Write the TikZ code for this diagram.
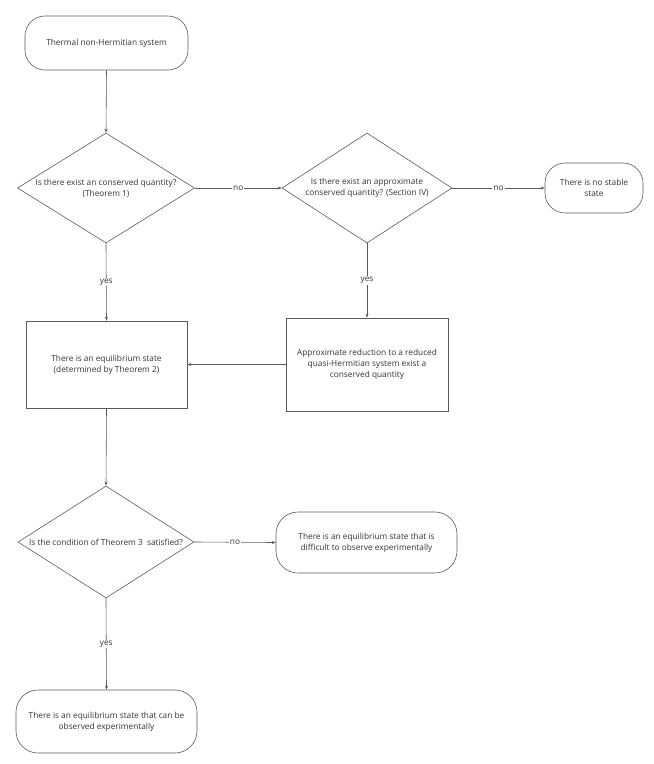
\documentclass[tikz,border=0pt]{standalone}
\usepackage{fontspec}
\setmainfont{Open Sans}
\usetikzlibrary{shapes.geometric,arrows.meta}
\definecolor{ln}{HTML}{5A5A5A}
\definecolor{tx}{HTML}{333333}
\begin{document}
\begin{tikzpicture}[x=1pt,y=-1pt,
  every node/.style={font=\fontsize{8.3}{11}\selectfont, text=tx},
  term/.style={draw=ln, line width=0.6pt, rounded corners=20pt, align=center, inner sep=0},
  box/.style={draw=ln, line width=0.6pt, align=center, inner sep=0},
  dia/.style={draw=ln, line width=0.6pt, diamond, inner sep=0},
  arr/.style={draw=ln, line width=0.6pt, -{Stealth[length=4pt,width=3pt]}},
  lab/.style={fill=white, inner sep=1pt}]
\useasboundingbox (0,0) rectangle (654,764);

\node[term, minimum width=163pt, minimum height=54pt] (start) at (106.5,43) {Thermal non-Hermitian system};

\node[dia, minimum width=177pt, minimum height=110pt,
  label={[align=center]center:{Is there exist an conserved quantity?\\(Theorem 1)}}] (d1) at (106,188) {};

\node[dia, minimum width=170pt, minimum height=110pt,
  label={[align=center]center:{Is there exist an approximate\\conserved quantity? (Section IV)}}] (d2) at (367,188) {};

\node[term, minimum width=98pt, minimum height=50pt] (ns) at (594,188) {There is no stable\\state};

\node[box, minimum width=161pt, minimum height=87pt] (b5) at (106.5,364.5) {There is an equilibrium state\\(determined by Theorem 2)};

\node[box, minimum width=162pt, minimum height=93pt] (b6) at (367,364.5) {Approximate reduction to a reduced\\quasi-Hermitian system exist a\\conserved quantity};

\node[dia, minimum width=176pt, minimum height=112pt,
  label={[align=center]center:{Is the condition of Theorem 3\ \ satisfied?}}] (d3) at (106,542) {};

\node[term, rounded corners=22pt, minimum width=181pt, minimum height=61pt] (t8) at (366.5,542.5) {There is an equilibrium state that is\\difficult to observe experimentally};

\node[term, rounded corners=22pt, minimum width=181pt, minimum height=63pt] (t9) at (106.5,721.5) {There is an equilibrium state that can be\\observed experimentally};

\draw[arr] (start.south) -- (d1.north);
\draw[arr] (d1.east) -- node[lab] {no} (d2.west);
\draw[arr] (d2.east) -- node[lab] {no} (ns.west);
\draw[arr] (d1.south) -- node[lab] {yes} (b5.north);
\draw[arr] (d2.south) -- node[lab] {yes} (b6.north);
\draw[arr] (b6.west) -- (b5.east);
\draw[arr] (b5.south) -- (d3.north);
\draw[arr] (d3.east) -- node[lab] {no} (t8.west);
\draw[arr] (d3.south) -- node[lab] {yes} (t9.north);
\end{tikzpicture}
\end{document}
